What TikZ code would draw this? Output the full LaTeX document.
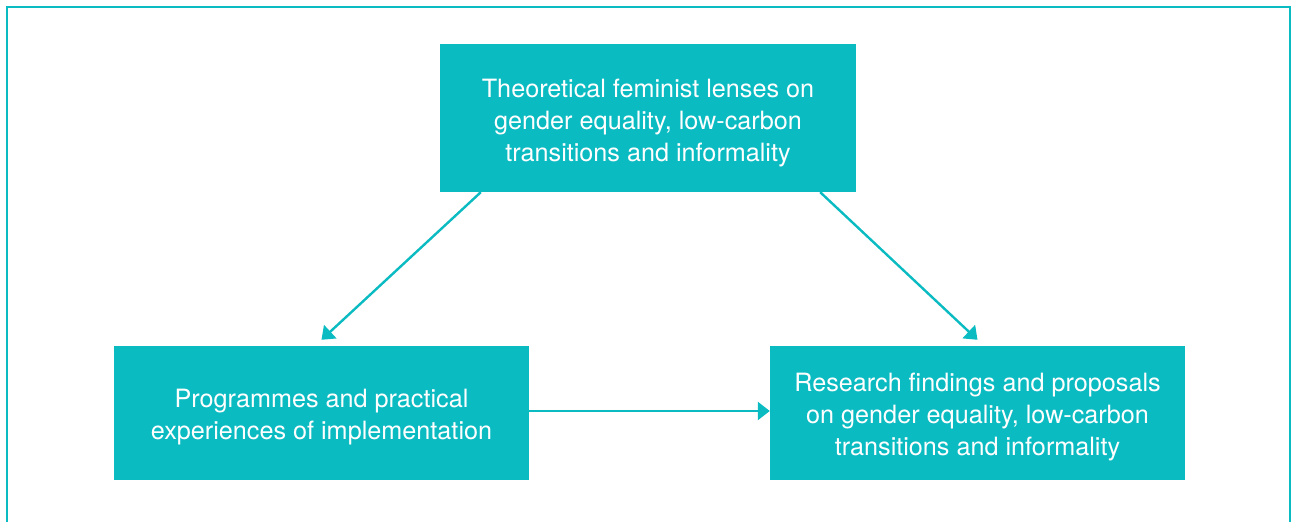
\documentclass[tikz,border=0pt]{standalone}
\usepackage{fontspec}
\setmainfont{TeX Gyre Heros}
\usetikzlibrary{arrows.meta}
\definecolor{teal1}{RGB}{11,187,194}
\begin{document}
\begin{tikzpicture}[x=1pt,y=-1pt,
  box/.style={fill=teal1, inner sep=0pt},
  boxtext/.style={text=white, align=center, inner sep=0pt,
    font=\fontsize{25.2}{32}\selectfont},
  link/.style={draw=teal1, line width=2.4pt,
    -{Triangle[length=12pt,width=18pt]}}]
  \useasboundingbox (0,0) rectangle (1292,522);
  % open frame, no bottom edge
  \draw[teal1, line width=2.5pt] (7,522) -- (7,7) -- (1290,7) -- (1290,522);

  \node[box, minimum width=416pt, minimum height=148pt] (top) at (648,118) {};
  \node[box, minimum width=415pt, minimum height=134pt] (left) at (321.5,413) {};
  \node[box, minimum width=415pt, minimum height=134pt] (right) at (977.5,413) {};

  \node[boxtext] (topText) at ([yshift=-5pt]top.center)
    {Theoretical feminist lenses on\\gender equality, low-carbon\\transitions and informality};
  \node[boxtext] (leftText) at ([yshift=-4pt]left.center)
    {Programmes and practical\\experiences of implementation};
  \node[boxtext] (rightText) at ([yshift=-4pt]right.center)
    {Research findings and proposals\\on gender equality, low-carbon\\transitions and informality};

  \draw[link] ([xshift=41pt]top.south west) -- ([yshift=6pt]left.north);
  \draw[link] ([xshift=-36pt]top.south east) -- ([yshift=6pt]right.north);
  \draw[link] ([yshift=2pt]left.east) -- ([yshift=2pt]right.west);
\end{tikzpicture}
\end{document}
